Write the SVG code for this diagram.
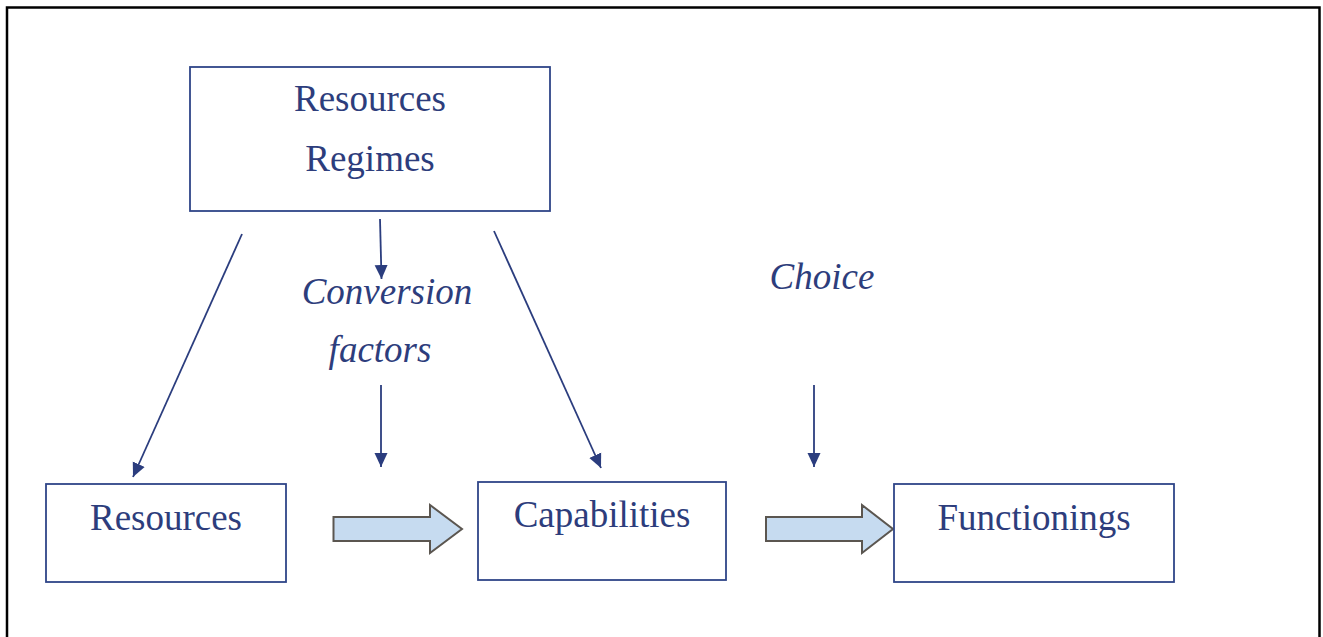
<svg xmlns="http://www.w3.org/2000/svg" width="1323" height="637" viewBox="0 0 1323 637">
  <style>
    .frame { fill: none; stroke: #000; stroke-width: 2.5; }
    .box { fill: #fff; stroke: #2f4588; stroke-width: 1.8; }
    .label { font-family: "Liberation Serif", "Times New Roman", serif; font-size: 37px; fill: #2d3d7c; text-anchor: middle; }
    .it { font-style: italic; }
    .link { stroke: #2b3d7e; stroke-width: 1.8; fill: none; marker-end: url(#head); }
    .block { fill: #c6dbf0; stroke: #5b5650; stroke-width: 2; stroke-linejoin: miter; }
  </style>
  <defs>
    <marker id="head" markerWidth="14" markerHeight="14" viewBox="0 0 14 14" refX="14" refY="7" orient="auto" markerUnits="userSpaceOnUse">
      <path d="M0,0.5 L14,7 L0,13.5 Z" fill="#2b3d7e"/>
    </marker>
  </defs>
  <rect width="1323" height="637" fill="#fff"/>
  <!-- outer frame, open at the bottom edge -->
  <path class="frame" d="M7,640 L7,7.5 L1319.5,7.5 L1319.5,640"/>

  <g id="connectors">
    <line class="link" x1="242" y1="234" x2="133" y2="477"/>
    <line class="link" x1="380" y1="219" x2="381.5" y2="279"/>
    <line class="link" x1="494" y1="231" x2="601" y2="468"/>
    <line class="link" x1="381" y1="385" x2="381" y2="467"/>
    <line class="link" x1="814" y1="385" x2="814" y2="467"/>
    <path class="block" d="M333.5,517 L430,517 L430,505 L462,529 L430,553 L430,541 L333.5,541 Z"/>
    <path class="block" d="M766,517 L862,517 L862,505 L893,529 L862,553 L862,541 L766,541 Z"/>
  </g>

  <g id="resources-regimes">
    <rect class="box" x="190" y="67" width="360" height="144"/>
    <text class="label" x="370" y="111">Resources</text>
    <text class="label" x="370" y="171">Regimes</text>
  </g>

  <g id="conversion-factors">
    <text class="label it" x="387" y="304">Conversion</text>
    <text class="label it" x="380" y="362">factors</text>
  </g>

  <g id="choice">
    <text class="label it" x="822" y="289">Choice</text>
  </g>

  <g id="resources">
    <rect class="box" x="46" y="484" width="240" height="98"/>
    <text class="label" x="166" y="530">Resources</text>
  </g>

  <g id="capabilities">
    <rect class="box" x="478" y="482" width="248" height="98"/>
    <text class="label" x="602" y="527">Capabilities</text>
  </g>

  <g id="functionings">
    <rect class="box" x="894" y="484" width="280" height="98"/>
    <text class="label" x="1034" y="530">Functionings</text>
  </g>
</svg>
